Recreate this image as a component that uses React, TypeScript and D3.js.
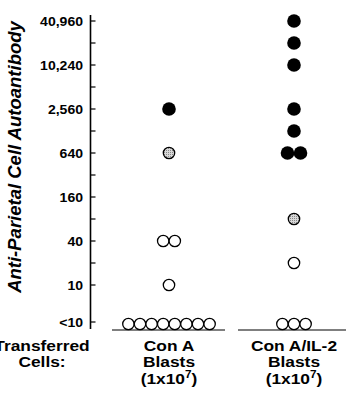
import React from "react";
import * as d3 from "d3";

// titres, 0 = "<10"
const groups = ["Con A", "Con A/IL-2"];
const conA = [2560, 640, 40, 40, 10, 0, 0, 0, 0, 0, 0, 0, 0];
const conAKind = ["black", "gray", "open", "open", "open", "open", "open", "open", "open", "open", "open", "open", "open"];
const conAIL2 = [40960, 20480, 10240, 2560, 1280, 640, 640, 80, 20, 0, 0, 0];
const conAIL2Kind = ["black", "black", "black", "black", "black", "black", "black", "gray", "open", "open", "open", "open"];
const tickValues = [10, 20, 40, 80, 160, 320, 640, 1280, 2560, 5120, 10240, 20480, 40960];
const tickLabels = ["10", "", "40", "", "160", "", "640", "", "2,560", "", "10,240", "", "40,960"];

const App: React.FC = () => {
  const width = 346;
  const height = 395;
  const axisX = 90.5;
  const y = d3.scaleLog().base(2).domain([10, 40960]).range([285, 21]);
  const yLow = 322;
  const pos = (v: number) => (v === 0 ? yLow : y(v));
  const x = d3.scalePoint<string>().domain(groups).range([169, 294]);

  const layout = (vals: number[], kinds: string[], g: string) => {
    const out: { cx: number; cy: number; kind: string }[] = [];
    const byVal = d3.group(vals.map((v, i) => ({ v, kind: kinds[i] })), (d) => d.v);
    byVal.forEach((items, v) => {
      const step = items[0].kind === "black" ? 13 : 11.6;
      items.forEach((d, i) => {
        out.push({
          cx: (x(g) as number) + (i - (items.length - 1) / 2) * step,
          cy: pos(v) + (v === 0 ? 2 : 0),
          kind: d.kind,
        });
      });
    });
    return out;
  };

  const pts = [...layout(conA, conAKind, groups[0]), ...layout(conAIL2, conAIL2Kind, groups[1])];
  const font = "'Liberation Sans', Arial, sans-serif";

  // texte un peu élargi comme sur la figure
  const label = (cx: number, yy: number, content: React.ReactNode, key: string) => (
    <text key={key} transform={`translate(${cx},${yy}) scale(1.12,1)`} textAnchor="middle">
      {content}
    </text>
  );

  const tickText = (yy: number, s: string) => (
    <text transform={`translate(83,${yy}) scale(1.08,1)`} dy="0.35em" textAnchor="end" fontSize={13} fontWeight="bold">
      {s}
    </text>
  );

  return (
    <svg width={width} height={height} style={{ position: "absolute", left: 0, top: 0 }} fontFamily={font}>
      <defs>
        <pattern id="stip" width="2" height="2" patternUnits="userSpaceOnUse">
          <rect width="2" height="2" fill="#d8d8d8" />
          <rect width="1" height="1" fill="#888" />
        </pattern>
      </defs>
      <line x1={axisX} x2={axisX} y1={15} y2={329} stroke="#000" strokeWidth={1.6} />
      {tickValues.map((t, i) => (
        <g key={t}>
          <line x1={axisX} x2={axisX + 5} y1={y(t)} y2={y(t)} stroke="#000" strokeWidth={1.2} />
          {tickLabels[i] && tickText(y(t), tickLabels[i])}
        </g>
      ))}
      <line x1={axisX} x2={axisX + 5} y1={yLow} y2={yLow} stroke="#000" strokeWidth={1.2} />
      {tickText(yLow, "<10")}
      <text
        transform={`translate(21,157) rotate(-90)`}
        textAnchor="middle"
        fontSize={18.5}
        fontWeight="bold"
        fontStyle="italic"
      >
        Anti-Parietal Cell Autoantibody
      </text>

      <line x1={112} x2={225} y1={330} y2={330} stroke="#000" strokeWidth={1.2} />
      <line x1={238} x2={346} y1={330} y2={330} stroke="#000" strokeWidth={1.2} />

      {pts.map((p, i) => (
        <circle
          key={i}
          cx={p.cx}
          cy={p.cy}
          r={p.kind === "black" ? 6.8 : 5.7}
          fill={p.kind === "black" ? "#000" : p.kind === "gray" ? "url(#stip)" : "#fff"}
          stroke="#000"
          strokeWidth={p.kind === "black" ? 0 : 1.3}
        />
      ))}

      <g fontSize={15.5} fontWeight="bold">
        {label(42, 351, "Transferred", "t1")}
        {label(42, 367, "Cells:", "t2")}
        {groups.map((g) => (
          <g key={g}>
            {label(x(g) as number, 351, g, g + "1")}
            {label(x(g) as number, 367, "Blasts", g + "2")}
            {label(
              x(g) as number,
              384,
              <>
                (1x10<tspan dy={-6} fontSize={10.5}>7</tspan>
                <tspan dy={6}>)</tspan>
              </>,
              g + "3"
            )}
          </g>
        ))}
      </g>
    </svg>
  );
};

export default App;
